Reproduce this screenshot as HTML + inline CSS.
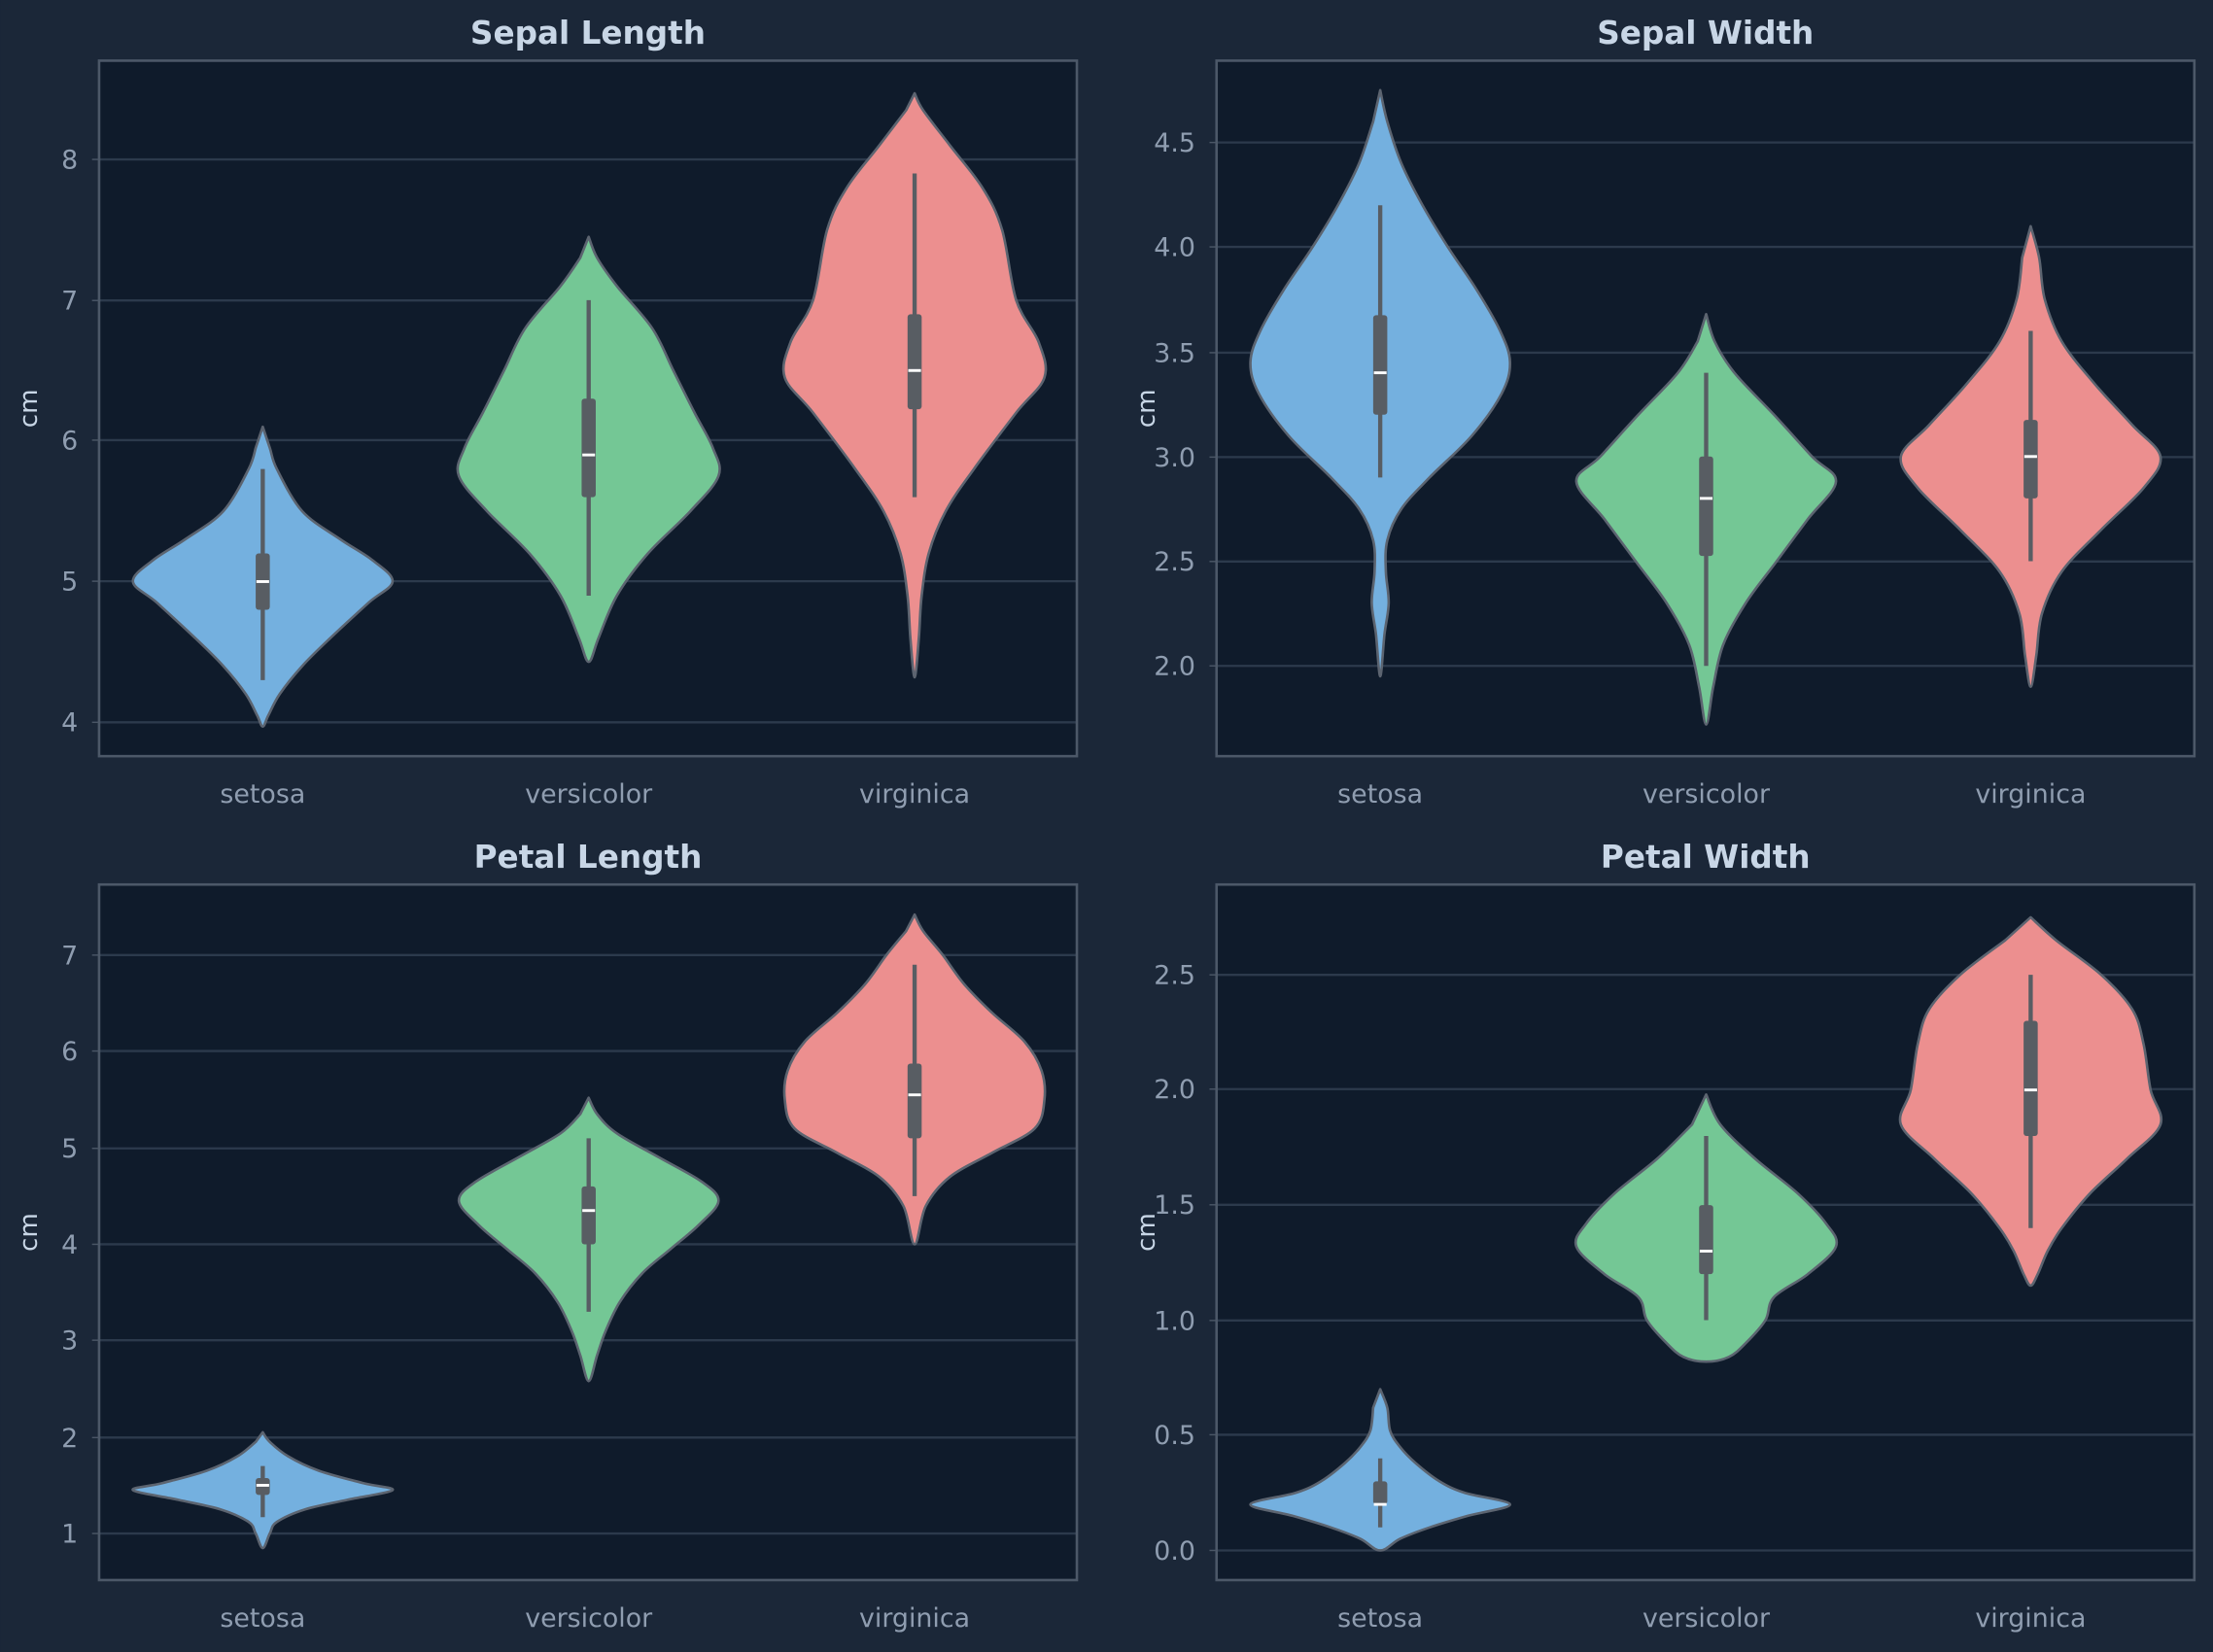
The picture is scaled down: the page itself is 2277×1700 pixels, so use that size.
<!DOCTYPE html>
<html><head><meta charset="utf-8"><style>
html,body{margin:0;padding:0;background:#1b2738;}
svg{display:block}
text{font-family:"DejaVu Sans","Liberation Sans",sans-serif}
</style></head><body>
<svg id="s" width="2277" height="1700" viewBox="0 0 1568 1171" xmlns="http://www.w3.org/2000/svg">
<rect width="1568" height="1171" fill="#1b2738"/>
</svg>
<script>
const S=document.getElementById('s');
const NS='http://www.w3.org/2000/svg';
function el(t,a,txt){const e=document.createElementNS(NS,t);for(const k in a)e.setAttribute(k,a[k]);if(txt!==undefined)e.textContent=txt;S.appendChild(e);return e;}
const cols=['#74b0df','#74c795','#ec8f8f'];
const panels=[
 {title:'Sepal Length',x0:70,x1:763,y0:43,y1:536,cx:[186,417,648],ticks:[[8,113],[7,213],[6,312],[5,412],[4,512]],labels:['8','7','6','5','4'],
  v:[
   [[6.1,0],[5.95,5],[5.8,10],[5.5,28],[5.3,55],[5.15,78],[5.0,92],[4.85,75],[4.6,48],[4.4,28],[4.2,12],[4.05,4],[3.97,0]],
   [[7.45,0],[7.3,6],[7.1,20],[6.8,45],[6.5,60],[6.2,75],[5.95,88],[5.75,92],[5.5,72],[5.2,42],[4.9,20],[4.6,7],[4.43,0]],
   [[8.47,0],[8.35,6],[8.1,25],[7.8,48],[7.5,62],[7.0,72],[6.7,88],[6.45,92],[6.2,72],[5.8,42],[5.5,22],[5.2,10],[4.9,5],[4.6,3],[4.32,0]]],
  box:[[4.8,5.2,5.0,4.3,5.8],[5.6,6.3,5.9,4.9,7.0],[6.225,6.9,6.5,5.6,7.9]]},
 {title:'Sepal Width',x0:862,x1:1555,y0:43,y1:536,cx:[978,1209,1439],ticks:[[4.5,101],[4.0,175],[3.5,250],[3.0,324],[2.5,398],[2.0,472]],labels:['4.5','4.0','3.5','3.0','2.5','2.0'],
  v:[
   [[4.75,0],[4.6,5],[4.4,15],[4.2,30],[4.0,48],[3.8,68],[3.6,85],[3.45,92],[3.3,86],[3.1,65],[2.9,35],[2.75,15],[2.6,5],[2.45,4],[2.3,6],[2.15,3],[1.95,0]],
   [[3.68,0],[3.55,6],[3.4,20],[3.2,48],[3.0,75],[2.88,92],[2.7,72],[2.5,50],[2.3,28],[2.1,12],[1.9,5],[1.72,0]],
   [[4.1,0],[3.95,6],[3.75,10],[3.55,22],[3.35,45],[3.15,72],[3.0,92],[2.85,80],[2.65,50],[2.45,22],[2.25,8],[2.05,4],[1.9,0]]],
  box:[[3.2,3.675,3.4,2.9,4.2],[2.525,3.0,2.8,2.0,3.4],[2.8,3.175,3.0,2.5,3.6]]},
 {title:'Petal Length',x0:70,x1:763,y0:627,y1:1120,cx:[186,417,648],ticks:[[7,677],[6,745],[5,814],[4,882],[3,950],[2,1019],[1,1087]],labels:['7','6','5','4','3','2','1'],
  v:[
   [[2.05,0],[1.95,5],[1.8,18],[1.65,40],[1.52,72],[1.45,92],[1.35,60],[1.25,30],[1.12,10],[1.0,5],[0.85,0]],
   [[5.52,0],[5.35,6],[5.15,20],[4.9,50],[4.65,80],[4.45,92],[4.2,78],[3.95,58],[3.7,38],[3.4,22],[3.1,12],[2.85,6],[2.58,0]],
   [[7.42,0],[7.25,6],[7.0,20],[6.7,35],[6.4,55],[6.1,78],[5.8,90],[5.5,92],[5.2,85],[4.95,55],[4.7,25],[4.4,8],[4.0,0]]],
  box:[[1.4,1.575,1.5,1.17,1.7],[4.0,4.6,4.35,3.3,5.1],[5.1,5.875,5.55,4.5,6.9]]},
 {title:'Petal Width',x0:862,x1:1555,y0:627,y1:1120,cx:[978,1209,1439],ticks:[[2.5,691],[2.0,772],[1.5,854],[1.0,936],[0.5,1017],[0.0,1099]],labels:['2.5','2.0','1.5','1.0','0.5','0.0'],
  v:[
   [[0.7,0],[0.62,5],[0.52,7],[0.45,14],[0.38,25],[0.3,42],[0.25,60],[0.2,92],[0.15,62],[0.1,35],[0.05,14],[0.0,0]],
   [[1.98,0],[1.85,10],[1.7,35],[1.55,65],[1.42,85],[1.32,92],[1.2,72],[1.1,48],[1.0,42],[0.9,28],[0.84,16],[0.82,0]],
   [[2.75,0],[2.65,18],[2.5,50],[2.35,72],[2.2,80],[2.0,85],[1.85,92],[1.7,68],[1.55,42],[1.4,22],[1.3,12],[1.2,5],[1.15,0]]],
  box:[[0.2,0.3,0.2,0.1,0.4],[1.2,1.5,1.3,1.0,1.8],[1.8,2.3,2.0,1.4,2.5]]}
];
function crPath(pts){let d='M'+pts[0][0]+','+pts[0][1];
 for(let i=0;i<pts.length-1;i++){const p0=pts[Math.max(0,i-1)],p1=pts[i],p2=pts[i+1],p3=pts[Math.min(pts.length-1,i+2)];
  const c1=[p1[0]+(p2[0]-p0[0])/6,p1[1]+(p2[1]-p0[1])/6],c2=[p2[0]-(p3[0]-p1[0])/6,p2[1]-(p3[1]-p1[1])/6];
  d+=` C${c1[0].toFixed(1)},${c1[1].toFixed(1)} ${c2[0].toFixed(1)},${c2[1].toFixed(1)} ${p2[0].toFixed(1)},${p2[1].toFixed(1)}`;}
 return d+'Z';}
panels.forEach(p=>{
 const t=p.ticks;const v0=t[0][0],y0=t[0][1],v1=t[t.length-1][0],y1=t[t.length-1][1];
 const Y=v=>y0+(v-v0)*(y1-y0)/(v1-v0);
 el('rect',{x:p.x0,y:p.y0,width:p.x1-p.x0,height:p.y1-p.y0,fill:'#0f1b2b'});
 t.forEach((tk,i)=>{el('line',{x1:p.x0,x2:p.x1,y1:tk[1],y2:tk[1],stroke:'#2c3a4c','stroke-width':1.6});
  el('text',{x:p.x0-15,y:tk[1]+6.5,'text-anchor':'end','font-size':18.5,fill:'#8f9db0'},p.labels[i]);
  el('line',{x1:p.x0-5,x2:p.x0,y1:tk[1],y2:tk[1],stroke:'#4a5666','stroke-width':1});});
 el('text',{x:(p.x0+p.x1)/2,y:p.y0-12,'text-anchor':'middle','font-size':22.5,'font-weight':'bold',fill:'#c8d6e6'},p.title);
 el('text',{x:0,y:0,transform:`translate(${p.x0-44},${(p.y0+p.y1)/2}) rotate(-90)`,'text-anchor':'middle','font-size':18,fill:'#c8d6e6'},'cm');
 ['setosa','versicolor','virginica'].forEach((n,i)=>el('text',{x:p.cx[i],y:p.y1+33,'text-anchor':'middle','font-size':18.5,fill:'#8f9db0'},n));
 p.v.forEach((prof,i)=>{const cx=p.cx[i];
  const right=prof.map(q=>[cx+q[1],Y(q[0])]);const left=prof.slice().reverse().map(q=>[cx-q[1],Y(q[0])]);
  const pts=right.concat(left.slice(1,-1));
  el('path',{d:crPath(pts),fill:cols[i],stroke:'#5c6470','stroke-width':1.8,'stroke-linejoin':'round'});
  const b=p.box[i];
  el('line',{x1:cx,x2:cx,y1:Y(b[3]),y2:Y(b[4]),stroke:'#585d63','stroke-width':3});
  el('rect',{x:cx-5,y:Y(b[1]),width:10,height:Y(b[0])-Y(b[1]),fill:'#585d63',rx:2});
  el('line',{x1:cx-4.5,x2:cx+4.5,y1:Y(b[2]),y2:Y(b[2]),stroke:'#ffffff','stroke-width':2});
 });
 el('rect',{x:p.x0,y:p.y0,width:p.x1-p.x0,height:p.y1-p.y0,fill:'none',stroke:'#4c5868','stroke-width':1.8});
});
</script>
</body></html>
